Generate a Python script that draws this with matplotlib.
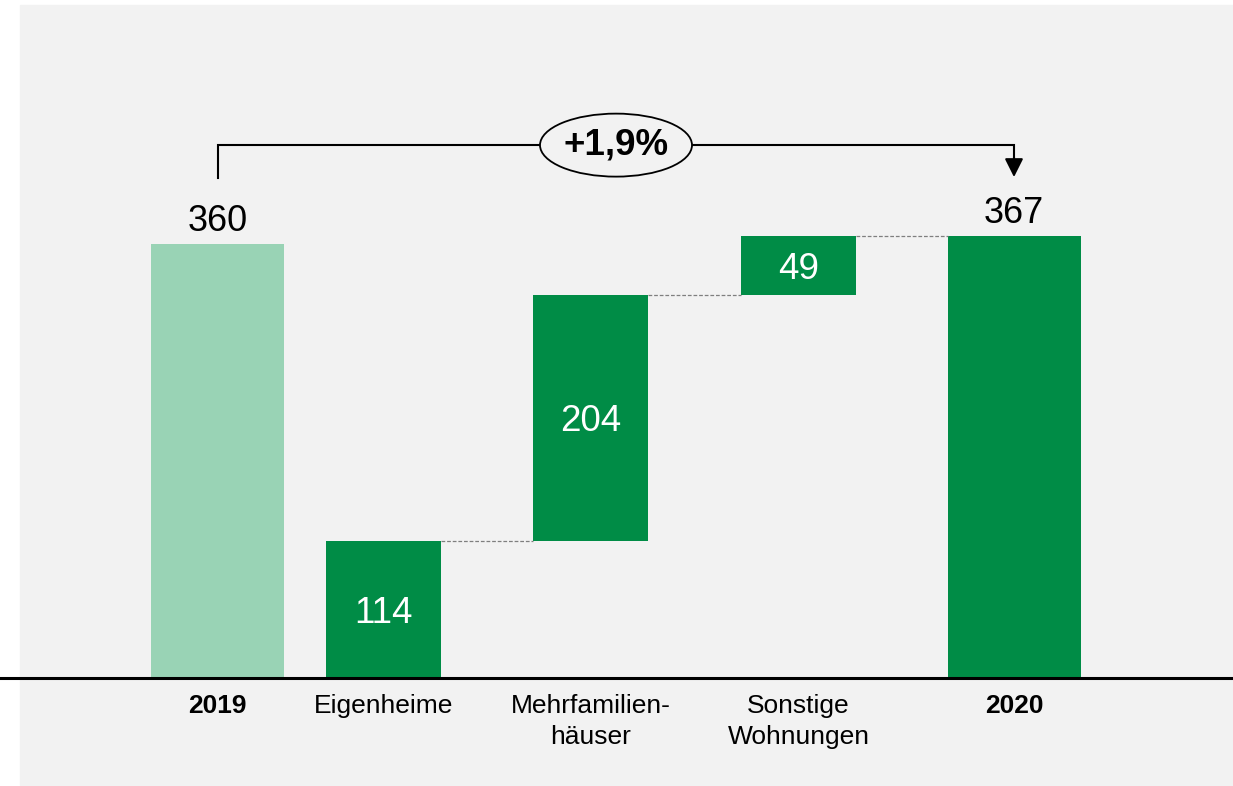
import matplotlib.pyplot as plt
from matplotlib.patches import Rectangle, Ellipse

plt.rcParams['font.family'] = ['Liberation Sans', 'DejaVu Sans']

categories = ['2019', 'Eigenheime', 'Mehrfamilien-\nhäuser', 'Sonstige\nWohnungen', '2020']
total_2019 = 360
total_2020 = 367
parts = [114, 204, 49]
change_label = '+1,9%'

light_green = '#99d3b5'
dark_green = '#008c46'
bg = '#f2f2f2'

# layout (x in pixel units, y in data units)
xpos = [217.5, 383.5, 590.5, 798.5, 1014]
widths = [133, 115, 115, 115, 133]
px_per_unit = 1.2056
base_px = 108

fig = plt.figure(figsize=(12.33, 7.86), dpi=100)
ax = fig.add_axes([0, 0, 1, 1])
ax.set_facecolor('none')
ax.set_xlim(0, 1233)
ax.set_ylim(-base_px / px_per_unit, (786 - base_px) / px_per_unit)
ax.axis('off')
ax.add_patch(Rectangle((20 / 1233, 1 / 786), 1213 / 1233, 780 / 786,
                       transform=fig.transFigure, color=bg, zorder=-10))

# totals
ax.bar(xpos[0], total_2019, width=widths[0], color=light_green)
ax.bar(xpos[4], total_2020, width=widths[4], color=dark_green)

# components
bottoms = [0, parts[0], parts[0] + parts[1]]
for i, (v, b) in enumerate(zip(parts, bottoms)):
    x = xpos[i + 1]
    ax.bar(x, v, bottom=b, width=widths[i + 1], color=dark_green)
    ax.annotate(str(v), (x, b + v / 2), xytext=(0, -3), textcoords='offset points',
                color='white', fontsize=26.5, ha='center', va='center')

# connectors
levels = [parts[0], parts[0] + parts[1], total_2020]
for i, lvl in enumerate(levels):
    x0 = xpos[i + 1] + widths[i + 1] / 2
    x1 = xpos[i + 2] - widths[i + 2] / 2
    ax.plot([x0, x1], [lvl, lvl], color='#7f7f7f', lw=0.9, ls=(0, (3, 1.5)))

# total labels
for x, v in [(xpos[0], total_2019), (xpos[4], total_2020)]:
    ax.annotate(str(v), (x, v), xytext=(0, 9), textcoords='offset points',
                ha='center', va='baseline', fontsize=26)

# category labels
for i, c in enumerate(categories):
    bold = i in (0, 4)
    ax.annotate(c, (xpos[i], 0), xytext=(0, -11.5), textcoords='offset points',
                ha='center', va='top', fontsize=19, linespacing=1.38,
                fontweight='bold' if bold else 'normal')

ax.axhline(0, color='black', lw=2.2)

# bracket with change
bracket_y = 442
ax.plot([xpos[0], xpos[0], xpos[4], xpos[4]], [415, bracket_y, bracket_y, 428],
        color='black', lw=1.5, solid_joinstyle='miter')
ax.annotate('', xy=(xpos[4], 415.5), xytext=(xpos[4], 432),
            arrowprops=dict(arrowstyle='-|>', mutation_scale=28, color='black',
                            lw=1.5, shrinkA=0, shrinkB=0))
ax.add_patch(Ellipse((616, bracket_y), 152, 63 / px_per_unit, facecolor=bg,
                     edgecolor='black', lw=1.3, zorder=3))
ax.text(616, bracket_y, change_label, fontsize=26.5, fontweight='bold',
        ha='center', va='center', zorder=4)

fig.savefig('out.png', dpi=100)
